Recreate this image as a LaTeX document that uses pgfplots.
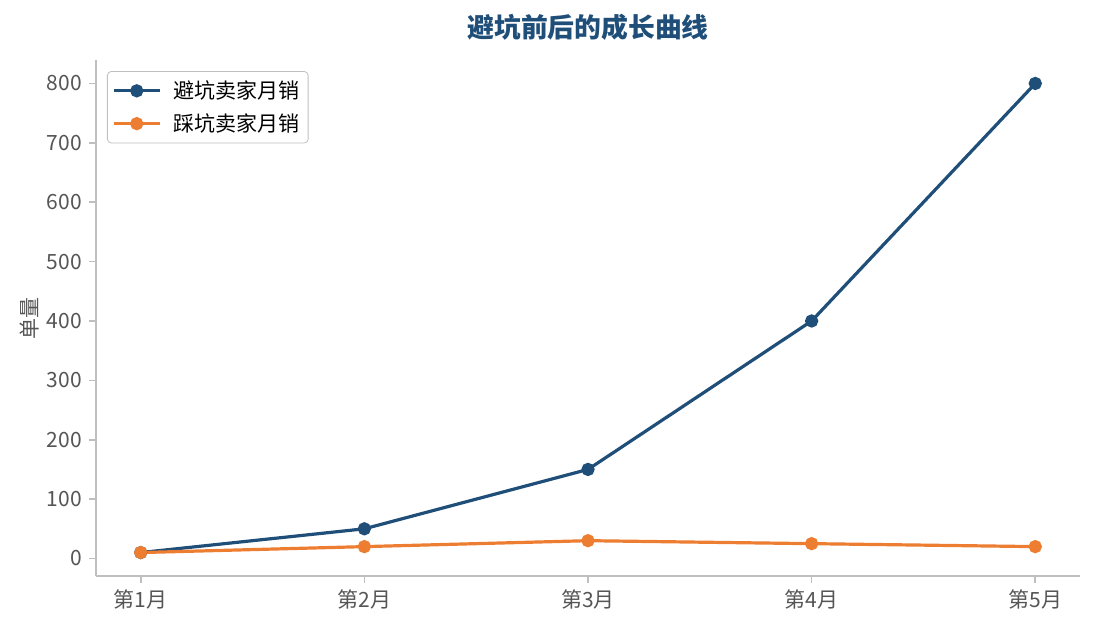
\documentclass[border=0pt]{standalone}
\usepackage{fontspec}
\setmainfont{Noto Sans CJK SC}
\usepackage{pgfplots}
\pgfplotsset{compat=1.18}

\definecolor{darkblue}{HTML}{1F4E79}
\definecolor{orng}{HTML}{ED7D31}
\definecolor{spine}{HTML}{BFBFBF}
\definecolor{ticktext}{HTML}{555555}

\begin{document}
\begin{tikzpicture}
\useasboundingbox (-48pt,-26.5pt) rectangle (499.5pt,288pt);
\begin{axis}[
    at={(0,0)}, anchor=south west,
    scale only axis,
    width=492pt, height=258pt,
    xmin=-0.2, xmax=4.2,
    ymin=-29.5, ymax=839.5,
    xtick={0,1,2,3,4},
    xticklabels={第1月,第2月,第3月,第4月,第5月},
    ytick={0,100,...,800},
    axis x line*=bottom,
    axis y line*=left,
    axis line style={spine, line width=0.8pt, -},
    tick style={spine, line width=0.8pt},
    tick align=outside,
    major tick length=3.5pt,
    tick label style={font=\fontsize{10.5}{12}\selectfont, text=ticktext},
    /pgf/number format/assume math mode=true,
    ylabel={单量},
    ylabel style={font=\fontsize{10.5}{12}\selectfont, text=ticktext, at={(axis description cs:0,0.5)}, anchor=south, yshift=25pt},
    title={\textbf{避坑前后的成长曲线}},
    title style={font=\fontsize{13.4}{15}\selectfont, text=darkblue, at={(axis description cs:0.5,1)}, anchor=center, yshift=10.5pt},
    legend style={at={(axis description cs:0,1)}, anchor=north west, xshift=5.5pt, yshift=-5.5pt,
        draw=spine, rounded corners=2pt, font=\fontsize{10.5}{12}\selectfont,
        row sep=2pt, column sep=4pt, inner sep=2.5pt},
    legend image code/.code={\draw[mark repeat=2, mark phase=2] plot coordinates {(0cm,0cm) (0.4cm,0cm) (0.8cm,0cm)};},
    legend cell align=left,
    clip=false,
]
\addplot[darkblue, line width=1.6pt, mark=*, mark size=2.5pt] coordinates {
    (0,10) (1,50) (2,150) (3,400) (4,800)
};
\addlegendentry{避坑卖家月销}
\addplot[orng, line width=1.6pt, mark=*, mark size=2.5pt] coordinates {
    (0,10) (1,20) (2,30) (3,25) (4,20)
};
\addlegendentry{踩坑卖家月销}
\end{axis}
\end{tikzpicture}
\end{document}
